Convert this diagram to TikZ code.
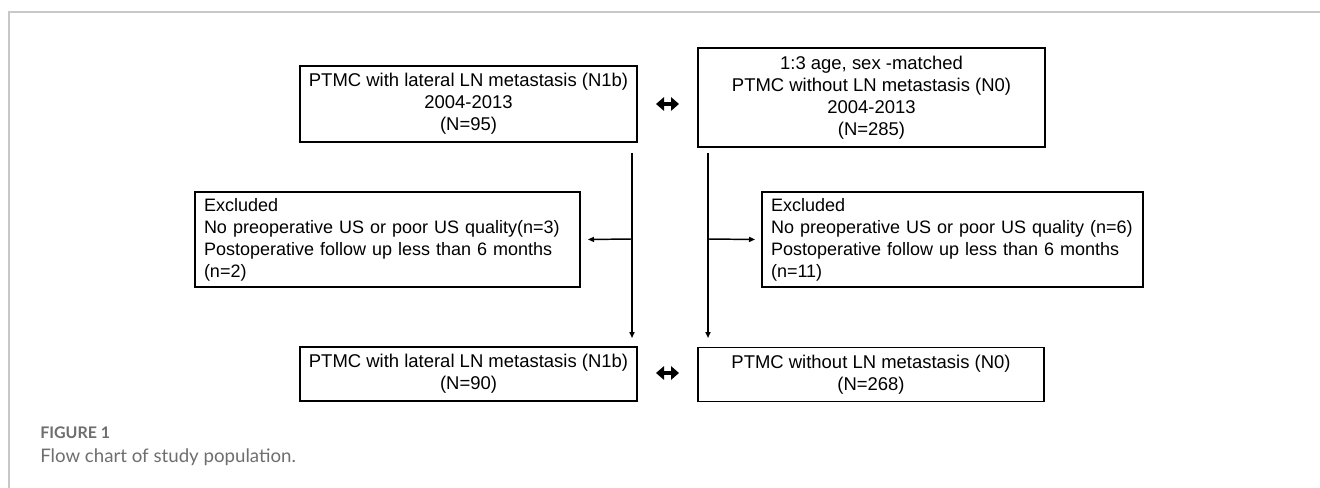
\documentclass[tikz,border=0pt]{standalone}
\usepackage{fontspec}
\setmainfont{Liberation Sans}
\newfontfamily\boxfont{Liberation Sans}
\newfontfamily\capfont{Lato}
\usetikzlibrary{arrows.meta}
\definecolor{framegray}{HTML}{C8C8C8}
\definecolor{capgray}{HTML}{6E6E6E}
\begin{document}
\begin{tikzpicture}[x=0.75pt,y=-0.75pt,
  every node/.style={font=\boxfont\fontsize{13.85pt}{16.5pt}\selectfont},
  box/.style={draw=black,line width=1.4pt,inner sep=0pt,align=center},
  exbox/.style={draw=black,line width=1.4pt,inner ysep=0pt,inner xsep=6.75pt,align=left,minimum height=71.25pt,
    font=\boxfont\fontsize{13.5pt}{16.5pt}\selectfont},
  conn/.style={line width=1.1pt,-{Triangle[length=4.5pt,width=3.8pt]}},
  dbl/.style={line width=3.2pt,{Triangle[length=6pt,width=10pt]}-{Triangle[length=6pt,width=10pt]}}]
\useasboundingbox (0,0) rectangle (1320,488);
% frame
\draw[framegray,line width=0.9pt] (1320,12) -- (9,12) -- (9,488);
% boxes
\node[box,minimum width=252.75pt,minimum height=57pt] (b1) at (468.5,104)
  {PTMC with lateral LN metastasis (N1b)\\2004-2013\\(N=95)};
\node[box,minimum width=260.25pt,minimum height=74.25pt] (b2) at (871.5,97.5)
  {1:3 age, sex -matched\\PTMC without LN metastasis (N0)\\2004-2013\\(N=285)};
\node[exbox,text width=275.25pt] (e1) at (387.5,239.5)
  {\mbox{Excluded}\\\mbox{No preoperative US or poor US quality(n=3)}\\\mbox{Postoperative follow up less than 6 months}\\\mbox{(n=2)}};
\node[exbox,text width=272.25pt] (e2) at (952.5,239.5)
  {\mbox{Excluded}\\\mbox{No preoperative US or poor US quality (n=6)}\\\mbox{Postoperative follow up less than 6 months}\\\mbox{(n=11)}};
\node[box,minimum width=252.75pt,minimum height=40.5pt] (b3) at (468.5,374)
  {PTMC with lateral LN metastasis (N1b)\\(N=90)};
\node[box,minimum width=259.5pt,minimum height=40.5pt] (b4) at (871,374.5)
  {PTMC without LN metastasis (N0)\\(N=268)};
% connector points
\coordinate (l0) at (632,153);
\coordinate (l1) at (632,239);
\coordinate (l2) at (632,338);
\coordinate (r0) at (708,153);
\coordinate (r1) at (708,239);
\coordinate (r2) at (708,338);
\draw[line width=1.1pt] (l0) -- (l1);
\draw[conn] (l1) -- (e1.east -| 588,0);
\draw[conn] (l1) -- (l2);
\draw[line width=1.1pt] (r0) -- (r1);
\draw[conn] (r1) -- (e2.west -| 755,0);
\draw[conn] (r1) -- (r2);
% double arrows
\coordinate (d1a) at (656,104);
\coordinate (d1b) at (679,104);
\coordinate (d2a) at (656,373);
\coordinate (d2b) at (679,373);
\draw[dbl] (d1a) -- (d1b);
\draw[dbl] (d2a) -- (d2b);
% caption
\node[anchor=west,inner sep=0pt,text=capgray,font=\capfont\bfseries\fontsize{12pt}{14pt}\selectfont] (fig) at (40,433) {FIGURE 1};
\node[anchor=west,inner sep=0pt,text=capgray,font=\capfont\fontsize{14pt}{17pt}\selectfont] (cap) at (40,457) {Flow chart of study population.};
\end{tikzpicture}
\end{document}
